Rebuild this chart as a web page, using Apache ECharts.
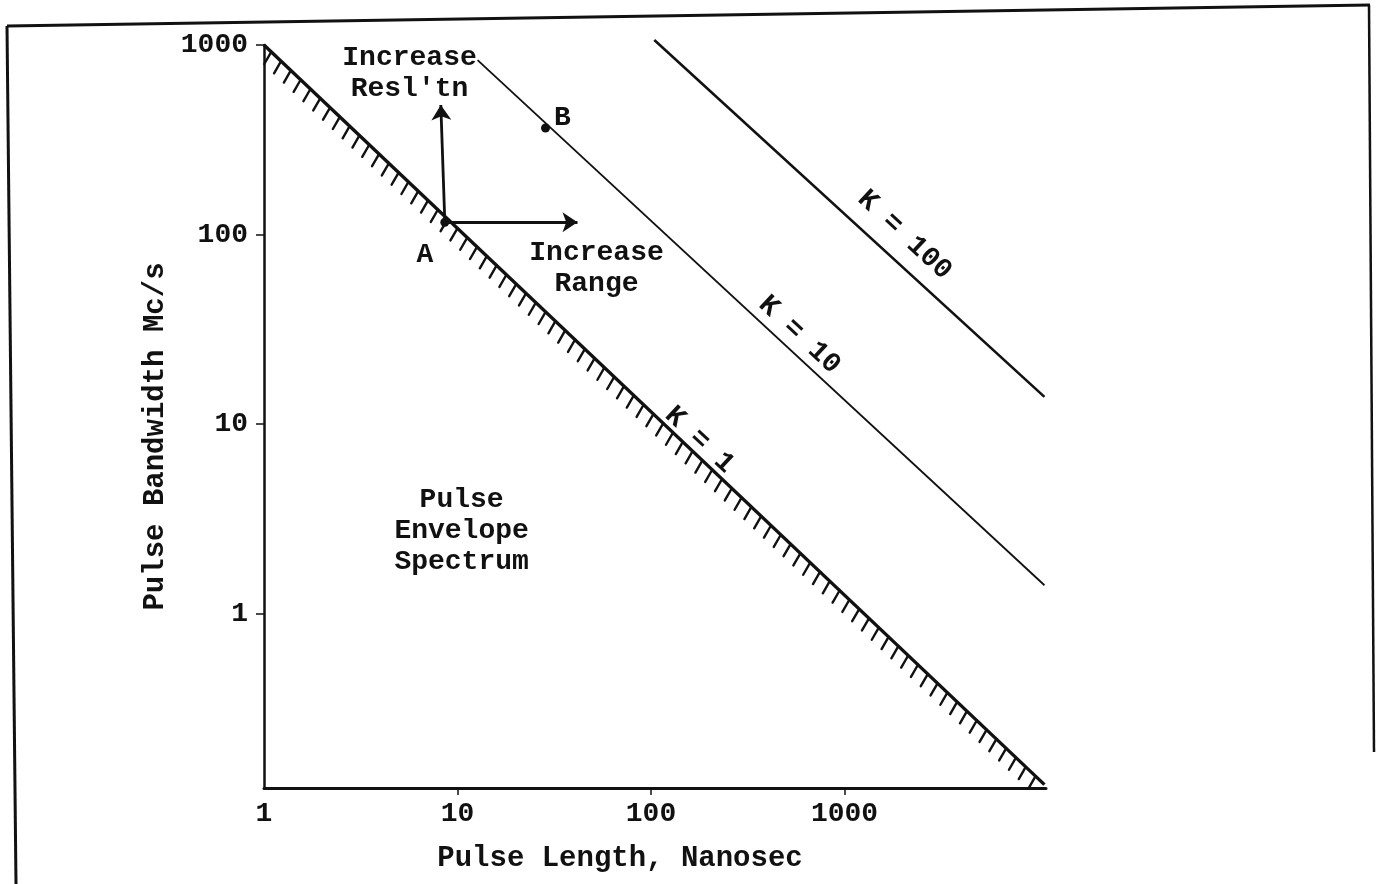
<!DOCTYPE html>
<html>
<head>
<meta charset="utf-8">
<script src="https://cdn.jsdelivr.net/npm/echarts@6/dist/echarts.min.js"></script>
<style>
html,body{margin:0;padding:0;background:#fff;}
#chart{width:1376px;height:884px;}
</style>
</head>
<body>
<div id="chart"></div>
<script>
// ---- data ----
const lengthTicks = [1, 10, 100, 1000];
const bandwidthTicks = [1, 10, 100, 1000];

const k1Length = [1, 10800];
const k1Bandwidth = [1000, 0.125];
const k10Length = [12.7, 10800];
const k10Bandwidth = [833, 1.41];
const k100Length = [104, 10800];
const k100Bandwidth = [1063, 13.9];

const pointNames = ['A', 'B'];
const pointLength = [8.6, 28.5];
const pointBandwidth = [116, 365];

const resolutionArrowLength = [8.6, 8.2];
const resolutionArrowBandwidth = [116, 482];
const rangeArrowLength = [8.6, 41.7];
const rangeArrowBandwidth = [116, 116];

const noteTexts = ["Increase\nResl'tn", "Increase\nRange", "Pulse\nEnvelope\nSpectrum", "K = 100", "K = 10", "K = 1"];
const noteLength = [5.65, 52.3, 10.5, 2042, 585, 178];
const noteBandwidth = [711, 66.5, 2.72, 99.3, 29.5, 8.24];
const noteRotated = [false, false, false, true, true, true];

const FONT = '"Liberation Mono", "DejaVu Sans Mono", monospace';
const INK = '#111';

function pairs(xs, ys) { return xs.map((x, i) => [x, ys[i]]); }

const chart = echarts.init(document.getElementById('chart'), null, {renderer: 'canvas'});

const option = {
  backgroundColor: '#fff',
  animation: false,
  textStyle: {fontFamily: FONT, color: INK, fontWeight: 'bold'},
  grid: {left: 264, top: 45, width: 782, height: 743, containLabel: false},
  xAxis: {
    type: 'log', logBase: 10, min: 1, max: 11000,
    name: 'Pulse Length, Nanosec', nameLocation: 'middle', nameGap: 56,
    nameTextStyle: {fontFamily: FONT, fontSize: 29, fontWeight: 'bold', color: INK, padding: [0, 70, 0, 0]},
    axisLine: {show: true, lineStyle: {color: INK, width: 3}},
    axisTick: {show: true, length: 7, lineStyle: {color: INK, width: 1.5}, customValues: lengthTicks.slice(1)},
    axisLabel: {show: true, margin: 12, fontSize: 28, fontFamily: FONT, fontWeight: 'bold', color: INK,
      customValues: lengthTicks, formatter: v => String(Math.round(v))},
    splitLine: {show: false}, minorTick: {show: false}
  },
  yAxis: {
    type: 'log', logBase: 10, min: 0.12, max: 1000,
    name: 'Pulse Bandwidth Mc/s', nameLocation: 'middle', nameGap: 92, nameRotate: 90,
    nameTextStyle: {fontFamily: FONT, fontSize: 29, fontWeight: 'bold', color: INK, padding: [0, 40, 0, 0]},
    axisLine: {show: true, lineStyle: {color: INK, width: 2.5}},
    axisTick: {show: true, length: 8, lineStyle: {color: INK, width: 1.5}, customValues: bandwidthTicks},
    axisLabel: {show: true, margin: 16, fontSize: 28, fontFamily: FONT, fontWeight: 'bold', color: INK,
      customValues: bandwidthTicks, formatter: v => String(Math.round(v))},
    splitLine: {show: false}, minorTick: {show: false}
  },
  series: [
    {
      name: 'K=1', type: 'line', data: pairs(k1Length, k1Bandwidth), symbol: 'none', clip: false,
      lineStyle: {color: INK, width: 3.4}, silent: true
    },
    {
      name: 'K=1 hatch', type: 'custom', clip: false, silent: true,
      data: [[k1Length[0], k1Bandwidth[0], k1Length[1], k1Bandwidth[1]]],
      encode: {x: [0, 2], y: [1, 3]},
      renderItem: function (params, api) {
        const p0 = api.coord([api.value(0), api.value(1)]);
        const p1 = api.coord([api.value(2), api.value(3)]);
        const dx = p1[0] - p0[0], dy = p1[1] - p0[1];
        const len = Math.sqrt(dx * dx + dy * dy);
        const ux = dx / len, uy = dy / len;
        const hx = -0.5 * 14, hy = 0.866 * 14;
        const children = [];
        for (let s = 10; s < len - 6; s += 13.5) {
          const bx = p0[0] + ux * s, by = p0[1] + uy * s;
          children.push({type: 'line', shape: {x1: bx, y1: by, x2: bx + hx, y2: by + hy},
            style: {stroke: INK, lineWidth: 2.4, lineCap: 'round'}});
        }
        return {type: 'group', children: children};
      }
    },
    {
      name: 'K=10', type: 'line', data: pairs(k10Length, k10Bandwidth), symbol: 'none', clip: false,
      lineStyle: {color: INK, width: 1.8}, silent: true
    },
    {
      name: 'K=100', type: 'line', data: pairs(k100Length, k100Bandwidth), symbol: 'none', clip: false,
      lineStyle: {color: INK, width: 2.6}, silent: true
    },
    {
      name: 'Points', type: 'scatter', symbol: 'circle', symbolSize: 9, clip: false, silent: true,
      itemStyle: {color: INK, opacity: 1},
      data: pointNames.map((n, i) => ({
        value: [pointLength[i], pointBandwidth[i]],
        label: {show: true, formatter: n, position: 'inside',
          offset: i === 0 ? [-20, 33] : [17, -10],
          fontSize: 28, fontFamily: FONT, fontWeight: 'bold', color: INK, opacity: 1,
          textBorderWidth: 0}
      })),
      markLine: {
        silent: true, animation: false,
        symbol: ['none', 'arrow'], symbolSize: 15,
        label: {show: false},
        itemStyle: {color: INK},
        lineStyle: {color: INK, width: 2.8, type: 'solid', opacity: 1},
        emphasis: {disabled: true},
        data: [
          [{coord: [resolutionArrowLength[0], resolutionArrowBandwidth[0]]},
           {coord: [resolutionArrowLength[1], resolutionArrowBandwidth[1]]}],
          [{coord: [rangeArrowLength[0], rangeArrowBandwidth[0]]},
           {coord: [rangeArrowLength[1], rangeArrowBandwidth[1]]}]
        ]
      }
    }
  ]
};
chart.setOption(option);

// annotations placed by data coordinates, plus the scanned page frame
const graphics = [];
noteTexts.forEach((t, i) => {
  const p = chart.convertToPixel({gridIndex: 0}, [noteLength[i], noteBandwidth[i]]);
  graphics.push({
    type: 'text', x: p[0], y: p[1], rotation: noteRotated[i] ? -0.75 : 0, silent: true,
    style: {text: t, fill: INK, font: 'bold 28px ' + FONT, align: 'center', verticalAlign: 'middle', lineHeight: 31}
  });
});
const frameStyle = {stroke: INK, lineWidth: 3};
graphics.push({type: 'line', silent: true, shape: {x1: 7, y1: 26, x2: 1370, y2: 5}, style: frameStyle});
graphics.push({type: 'line', silent: true, shape: {x1: 7, y1: 26, x2: 16, y2: 884}, style: frameStyle});
graphics.push({type: 'line', silent: true, shape: {x1: 1369, y1: 5, x2: 1374, y2: 752}, style: {stroke: INK, lineWidth: 2.5}});
chart.setOption({graphic: graphics});
</script>
</body>
</html>
